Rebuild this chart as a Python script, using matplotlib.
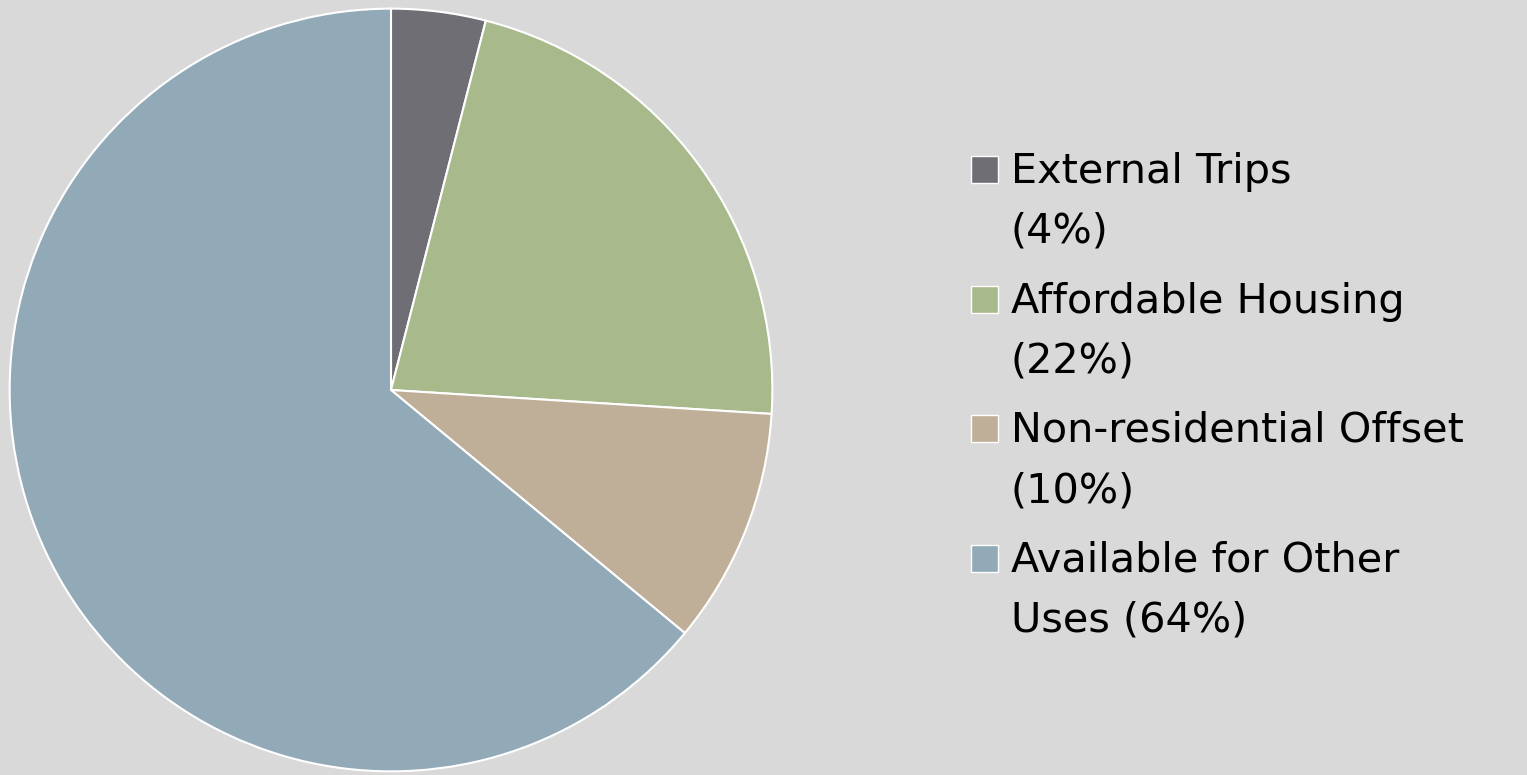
import matplotlib
matplotlib.use('Agg')
import matplotlib.pyplot as plt
from matplotlib.patches import Rectangle

# slice data, clockwise from 12 o'clock
labels = ['External Trips\n(4%)', 'Affordable Housing\n(22%)',
          'Non-residential Offset\n(10%)', 'Available for Other\nUses (64%)']
shares = [4, 22, 10, 64]
colors = ['#706e75', '#a8b98b', '#bfae98', '#92a9b8']
bg = '#d9d9d9'

plt.rcParams['font.family'] = ['DejaVu Sans']

W, H = 1527, 775
fig = plt.figure(figsize=(W/100, H/100), dpi=100, facecolor=bg)
ax = fig.add_axes([8.5/W, 2.5/H, 765/W, 765/H])
ax.set_facecolor(bg)
wedges, _ = ax.pie(shares, colors=colors, startangle=90, counterclock=False,
                   wedgeprops=dict(edgecolor='white', linewidth=1.5))
ax.set_xlim(-1.003, 1.003); ax.set_ylim(-1.003, 1.003)
ax.set_aspect('equal')

# legend drawn by hand so the square sits on the first line (pixels from top)
first_base, item_step, line_step = 183, 129.5, 60
box_x, box_w, text_x = 971, 27, 1011
for i, (lab, col) in enumerate(zip(labels, colors)):
    base = first_base + i*item_step
    fig.add_artist(Rectangle((box_x/W, 1 - base/H), box_w/W, box_w/H,
                             transform=fig.transFigure, facecolor=col,
                             edgecolor='white', linewidth=1))
    for j, line in enumerate(lab.split('\n')):
        fig.text(text_x/W, 1 - (base + j*line_step)/H, line, fontsize=29.8,
                 va='baseline', ha='left', color='black')

fig.savefig('out.png', dpi=100, facecolor=bg)
